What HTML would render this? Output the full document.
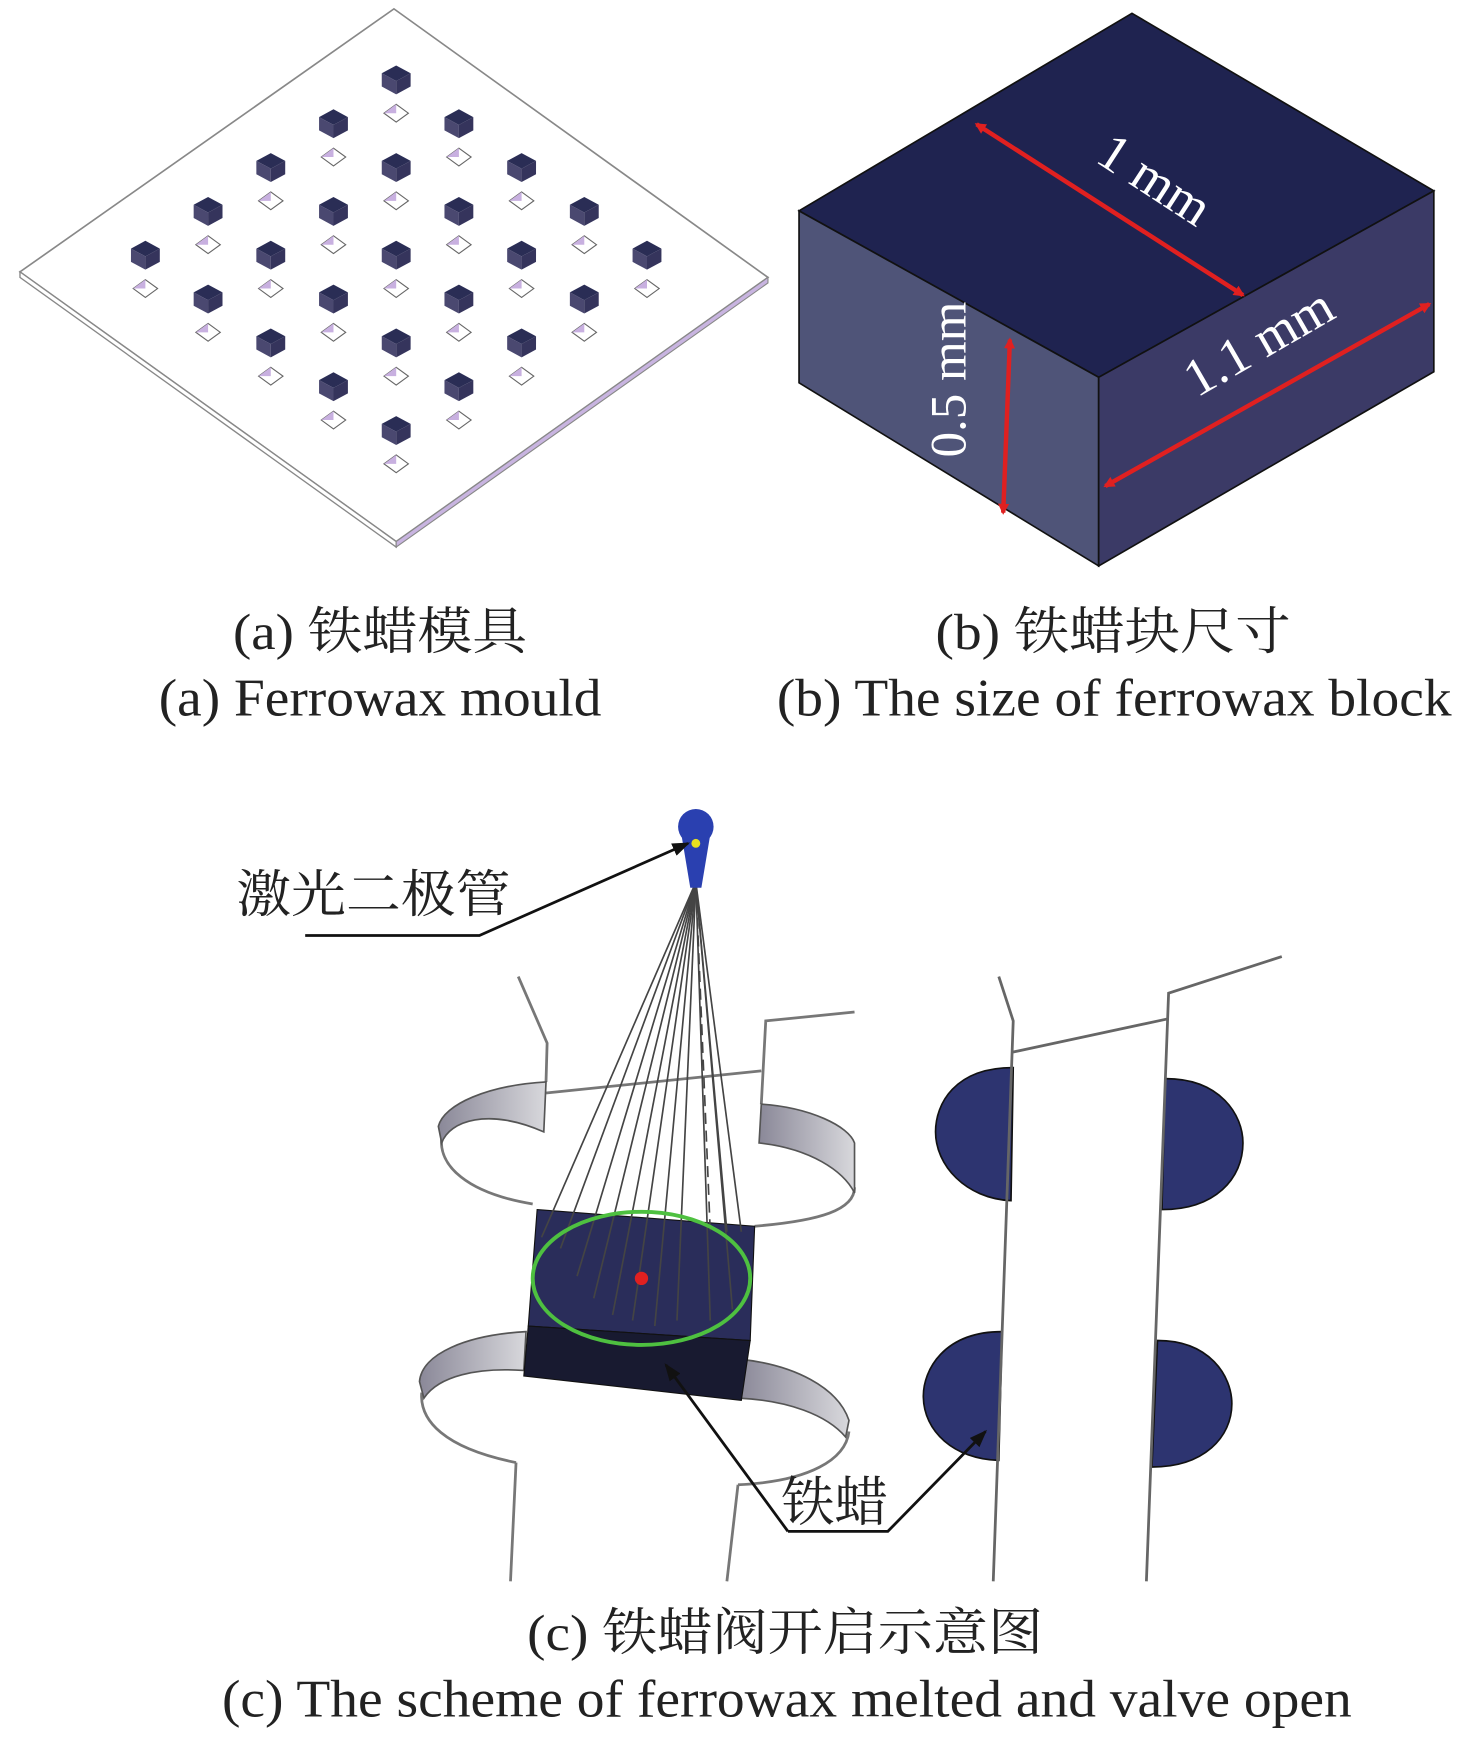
<!DOCTYPE html>
<html><head><meta charset="utf-8"><style>
html,body{margin:0;padding:0;background:#fff;}
svg{display:block;}
text{font-family:"Liberation Serif","Noto Serif CJK SC",serif;fill:#222;}
</style></head><body>
<svg width="1476" height="1740" viewBox="0 0 1330 1568" preserveAspectRatio="none" xmlns="http://www.w3.org/2000/svg">
<defs>
<marker id="ra" markerWidth="10" markerHeight="10" refX="8" refY="5" orient="auto-start-reverse" markerUnits="userSpaceOnUse"><path d="M0,0 L10,5 L0,10 Z" fill="#e02020"/></marker>
<marker id="ka" markerWidth="16" markerHeight="12" refX="14" refY="6" orient="auto" markerUnits="userSpaceOnUse"><path d="M0,0 L16,6 L0,12 Z" fill="#111"/></marker>
<linearGradient id="gg" x1="0" x2="1"><stop offset="0" stop-color="#8a8898"/><stop offset="1" stop-color="#d8d8dc"/></linearGradient>
</defs>
<!-- Panel a -->
<polygon points="355,8 692,250 357,488 18,245" fill="#fff" stroke="#888" stroke-width="1.5"/>
<polygon points="18,245 357,488 357,493 18,250" fill="#fff" stroke="#888" stroke-width="1.2"/>
<polygon points="692,250 357,488 357,493 692,255" fill="#c8b4e0" stroke="#888" stroke-width="1"/>
<g id="cubes"></g>
<!-- Panel b -->
<polygon points="720,190 1020,12 1292,172 990,340" fill="#1f2350" stroke="#111" stroke-width="1.5"/>
<polygon points="720,190 990,340 990,510 720,345" fill="#4f5478" stroke="#111" stroke-width="1.5"/>
<polygon points="990,340 1292,172 1292,335 990,510" fill="#3b3a66" stroke="#111" stroke-width="1.5"/>
<line x1="880" y1="112" x2="1120" y2="266" stroke="#e02020" stroke-width="4" marker-start="url(#ra)" marker-end="url(#ra)"/>
<line x1="996" y1="438" x2="1288" y2="274" stroke="#e02020" stroke-width="4" marker-start="url(#ra)" marker-end="url(#ra)"/>
<line x1="910" y1="306" x2="904" y2="462" stroke="#e02020" stroke-width="4" marker-start="url(#ra)" marker-end="url(#ra)"/>
<text x="1032" y="175" font-size="48" style="fill:#fff" transform="rotate(33 1032 175)" text-anchor="middle">1 mm</text>
<text x="1142" y="322" font-size="48" style="fill:#fff" transform="rotate(-30 1142 322)" text-anchor="middle">1.1 mm</text>
<text x="885" y="357" font-size="46" style="fill:#fff" transform="rotate(-90 870 357)" text-anchor="middle">0.5 mm</text>
<!-- captions -->
<text x="210" y="585" font-size="46" textLength="265" lengthAdjust="spacingAndGlyphs">(a) 铁蜡模具</text>
<text x="143" y="645" font-size="48" textLength="399" lengthAdjust="spacingAndGlyphs">(a) Ferrowax mould</text>
<text x="843" y="585" font-size="46" textLength="320" lengthAdjust="spacingAndGlyphs">(b) 铁蜡块尺寸</text>
<text x="700" y="645" font-size="48" textLength="608" lengthAdjust="spacingAndGlyphs">(b) The size of ferrowax block</text>
<text x="475" y="1487" font-size="46" textLength="465" lengthAdjust="spacingAndGlyphs">(c) 铁蜡阀开启示意图</text>
<text x="200" y="1547" font-size="48" textLength="1018" lengthAdjust="spacingAndGlyphs">(c) The scheme of ferrowax melted and valve open</text>
<!-- Panel c left structure -->
<g fill="none" stroke="#777" stroke-width="2.5">
<polyline points="467,880 493,940 492,975"/>
<line x1="492" y1="985" x2="686" y2="965"/>
<polyline points="686,995 690,920 770,912"/>
<path d="M480,1085 C420,1075 395,1050 398,1025"/>
<path d="M680,1105 C740,1100 770,1090 770,1070"/>
<path d="M465,1318 C400,1305 378,1280 380,1255"/>
<polyline points="465,1318 460,1425"/>
<path d="M665,1338 C730,1335 762,1315 765,1290"/>
<polyline points="665,1338 655,1425"/>
</g>
<path d="M492,975 C440,978 400,995 395,1015 L398,1030 C405,1010 440,998 490,1020 Z" fill="url(#gg)" stroke="#555" stroke-width="1.5"/>
<path d="M686,995 C730,998 765,1015 770,1030 L770,1075 C760,1055 730,1035 684,1030 Z" fill="url(#gg)" stroke="#555" stroke-width="1.5"/>
<path d="M474,1200 C420,1203 380,1220 378,1245 L382,1260 C395,1240 430,1232 472,1235 Z" fill="url(#gg)" stroke="#555" stroke-width="1.5"/>
<path d="M668,1225 C715,1230 755,1250 765,1280 L762,1295 C745,1275 710,1262 666,1260 Z" fill="url(#gg)" stroke="#555" stroke-width="1.5"/>
<polygon points="484,1090 680,1105 676,1208 476,1195" fill="#2a2d5a" stroke="#111" stroke-width="1"/>
<polygon points="476,1195 676,1208 668,1262 472,1240" fill="#181a30" stroke="#111" stroke-width="1"/>
<!-- rays -->
<g stroke="#444" stroke-width="1.5" fill="none">
<line x1="627" y1="795" x2="488" y2="1115"/><line x1="627" y1="795" x2="505" y2="1125"/>
<line x1="627" y1="795" x2="520" y2="1150"/><line x1="627" y1="795" x2="535" y2="1170"/>
<line x1="627" y1="795" x2="552" y2="1185"/><line x1="627" y1="795" x2="570" y2="1190"/>
<line x1="627" y1="795" x2="590" y2="1195"/><line x1="627" y1="795" x2="610" y2="1190"/>
<line x1="627" y1="795" x2="640" y2="1190"/><line x1="627" y1="795" x2="660" y2="1180"/>
<line x1="627" y1="795" x2="668" y2="1110"/><line x1="627" y1="795" x2="655" y2="1110"/>
<line x1="627" y1="795" x2="640" y2="1110" stroke-dasharray="10,6"/>
</g>
<ellipse cx="578" cy="1152" rx="98" ry="60" fill="none" stroke="#4ec040" stroke-width="3.5"/>
<circle cx="578" cy="1152" r="6" fill="#e02020"/>
<circle cx="627" cy="745" r="16" fill="#2a40b0"/>
<polygon points="614,752 640,752 632,800 622,800" fill="#2a40b0"/>
<circle cx="627" cy="760" r="4" fill="#e8e020"/>
<text x="213" y="822" font-size="46" textLength="247" lengthAdjust="spacingAndGlyphs">激光二极管</text>
<polyline points="275,843 432,843 620,760" fill="none" stroke="#111" stroke-width="2.5" marker-end="url(#ka)"/>
<!-- right structure -->
<path d="M913,962 C860,962 843,995 843,1020 C843,1050 870,1080 911,1082 Z" fill="#2d3470" stroke="#111" stroke-width="1.5"/>
<path d="M1050,972 C1100,972 1120,1005 1120,1030 C1120,1062 1095,1090 1047,1090 Z" fill="#2d3470" stroke="#111" stroke-width="1.5"/>
<path d="M903,1200 C850,1200 832,1235 832,1258 C832,1290 860,1315 900,1316 Z" fill="#2d3470" stroke="#111" stroke-width="1.5"/>
<path d="M1043,1208 C1090,1208 1110,1240 1110,1265 C1110,1295 1085,1322 1038,1322 Z" fill="#2d3470" stroke="#111" stroke-width="1.5"/>
<g fill="none" stroke="#666" stroke-width="2.5">
<polyline points="900,880 913,920 895,1425"/>
<line x1="913" y1="948" x2="1053" y2="918"/>
<polyline points="1155,862 1053,895 1033,1425"/>
</g>
<text x="704" y="1370" font-size="48" textLength="96" lengthAdjust="spacingAndGlyphs">铁蜡</text>
<polyline points="710,1380 800,1380 888,1290" fill="none" stroke="#111" stroke-width="2.5" marker-end="url(#ka)"/>
<line x1="710" y1="1380" x2="600" y2="1230" stroke="#111" stroke-width="2.5" marker-end="url(#ka)"/>
</svg>
<script>
var g=document.getElementById('cubes'),s='';
for(var i=0;i<5;i++)for(var j=0;j<5;j++){
var x=357+(i-j)*56.5,y=72+(i+j)*39.5;
s+='<polygon points="'+(x-13)+','+(y-6)+' '+x+','+(y-13)+' '+(x+13)+','+(y-6)+' '+x+','+(y+1)+'" fill="#2a2d55"/>';
s+='<polygon points="'+(x-13)+','+(y-6)+' '+x+','+(y+1)+' '+x+','+(y+13)+' '+(x-13)+','+(y+6)+'" fill="#4a4870"/>';
s+='<polygon points="'+(x+13)+','+(y-6)+' '+x+','+(y+1)+' '+x+','+(y+13)+' '+(x+13)+','+(y+6)+'" fill="#35345c"/>';
var yy=y+30;
s+='<polygon points="'+(x-11)+','+yy+' '+x+','+(yy-8)+' '+(x+11)+','+yy+' '+x+','+(yy+8)+'" fill="#fff" stroke="#666" stroke-width="1"/>';
s+='<polygon points="'+(x-11)+','+yy+' '+x+','+(yy-8)+' '+x+','+yy+'" fill="#c8b0e0"/>';
}
g.innerHTML=s;
</script>
</body></html>
